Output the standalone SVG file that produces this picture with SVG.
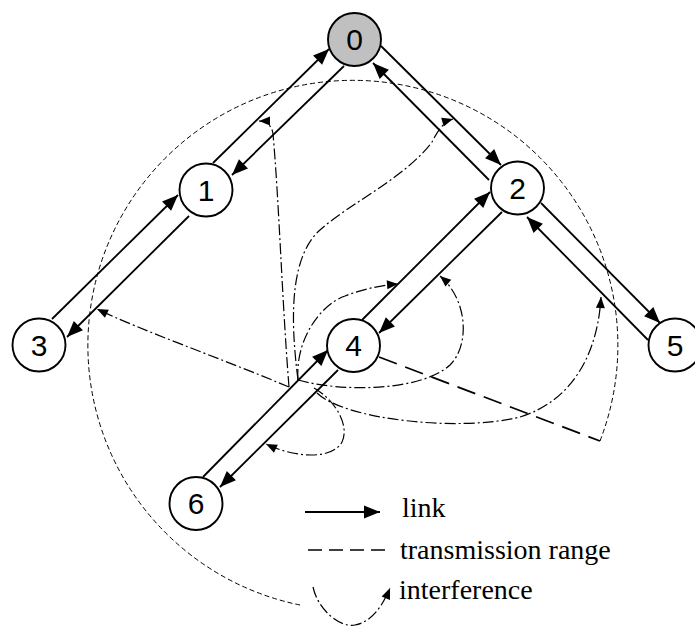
<svg xmlns="http://www.w3.org/2000/svg" width="695" height="626" viewBox="0 0 695 626">
  <style>
    .node circle { fill: #ffffff; stroke: #000000; stroke-width: 1.9; }
    .node.root circle { fill: #c0c0c0; }
    .node text { font-family: "Liberation Sans", Arial, sans-serif; font-size: 30px; text-anchor: middle; fill: #000000; }
    .link { stroke: #000000; stroke-width: 1.8; fill: none; marker-end: url(#arrow); }
    .range { stroke: #000000; stroke-width: 1; fill: none; stroke-dasharray: 5 3; }
    .radius { stroke: #000000; stroke-width: 1.7; fill: none; stroke-dasharray: 19 9; }
    .interf { stroke: #000000; stroke-width: 1.2; fill: none; stroke-dasharray: 11 3 2 3; marker-end: url(#arrow-small); }
    .legend-text { font-family: "Liberation Serif", "Times New Roman", serif; font-size: 28px; fill: #000000; }
  </style>
  <defs>
    <!-- filled head for links -->
    <marker id="arrow" markerUnits="userSpaceOnUse" markerWidth="16" markerHeight="13" refX="16" refY="6.5" orient="auto" overflow="visible">
      <path d="M0,0 L16,6.5 L0,13 z" fill="#000000" stroke="none"/>
    </marker>
    <!-- smaller head for interference paths -->
    <marker id="arrow-small" markerUnits="userSpaceOnUse" markerWidth="11" markerHeight="9" refX="11" refY="4.5" orient="auto" overflow="visible">
      <path d="M0,0 L11,4.5 L0,9 z" fill="#000000" stroke="none"/>
    </marker>
  </defs>

  <rect x="0" y="0" width="695" height="626" fill="#ffffff"/>

  <!-- transmission range of node 4 -->
  <g id="range">
    <path class="range" d="M600,441 A265,265 0 1 0 300,605"/>
    <line class="radius" x1="379" y1="357" x2="600" y2="441"/>
  </g>

  <!-- interference paths -->
  <g id="interference">
    <path class="interf" d="M289,387 C282,300 279,200 273,134 C272,126 267,121 259,121"/>
    <path class="interf" d="M298,380 C289,310 292,255 320,230 C350,203 405,178 432,142 C437,132 443,122 453,119"/>
    <path class="interf" d="M298,380 C295,340 320,305 345,296 C365,288 385,285 398,284"/>
    <path class="interf" d="M298,380 C340,392 420,392 450,365 C470,345 468,300 440,276"/>
    <path class="interf" d="M289,387 C220,358 140,330 97,309"/>
    <path class="interf" d="M317,393 C345,420 460,432 520,417 C575,400 598,350 601,297"/>
    <path class="interf" d="M314,388 C335,400 350,425 342,442 C332,460 295,458 266,444"/>
  </g>

  <!-- links -->
  <g id="connectors">
    <line class="link" x1="213" y1="163" x2="329" y2="49"/>
    <line class="link" x1="344" y1="66" x2="232" y2="175"/>
    <line class="link" x1="52" y1="319" x2="178" y2="195"/>
    <line class="link" x1="189" y1="216" x2="67" y2="337"/>
    <line class="link" x1="381" y1="46" x2="501" y2="165"/>
    <line class="link" x1="489" y1="180" x2="373" y2="63"/>
    <line class="link" x1="541" y1="203" x2="660" y2="323"/>
    <line class="link" x1="648" y1="340" x2="527" y2="217"/>
    <line class="link" x1="362" y1="320" x2="490" y2="192"/>
    <line class="link" x1="502" y1="212" x2="379" y2="333"/>
    <line class="link" x1="203" y1="477" x2="328" y2="350"/>
    <line class="link" x1="338" y1="370" x2="220" y2="487"/>
  </g>

  <!-- nodes -->
  <g id="node-0" class="node root">
    <circle cx="354.5" cy="39.5" r="26.5"/>
    <text x="354.5" y="50.2">0</text>
  </g>
  <g id="node-1" class="node">
    <circle cx="206" cy="190" r="26.5"/>
    <text x="206" y="200.7">1</text>
  </g>
  <g id="node-2" class="node">
    <circle cx="517.5" cy="188" r="26.5"/>
    <text x="517.5" y="198.7">2</text>
  </g>
  <g id="node-3" class="node">
    <circle cx="39" cy="345" r="26.5"/>
    <text x="39" y="355.7">3</text>
  </g>
  <g id="node-4" class="node">
    <circle cx="353.5" cy="345.5" r="26.5"/>
    <text x="353.5" y="356.2">4</text>
  </g>
  <g id="node-5" class="node">
    <circle cx="675" cy="345" r="26.5"/>
    <text x="675" y="355.7">5</text>
  </g>
  <g id="node-6" class="node">
    <circle cx="196" cy="503.5" r="26.5"/>
    <text x="196" y="514.2">6</text>
  </g>

  <!-- legend -->
  <g id="legend">
    <line class="link" x1="305" y1="512" x2="380" y2="512"/>
    <text class="legend-text" x="402" y="517">link</text>
    <line x1="308" y1="550" x2="385" y2="550" stroke="#000000" stroke-width="1.7" stroke-dasharray="14 7"/>
    <text class="legend-text" x="400" y="559">transmission range</text>
    <path class="interf" d="M313,587 C318,610 340,628 355,625 C372,622 383,605 390,588"/>
    <text class="legend-text" x="399" y="599">interference</text>
  </g>
</svg>
